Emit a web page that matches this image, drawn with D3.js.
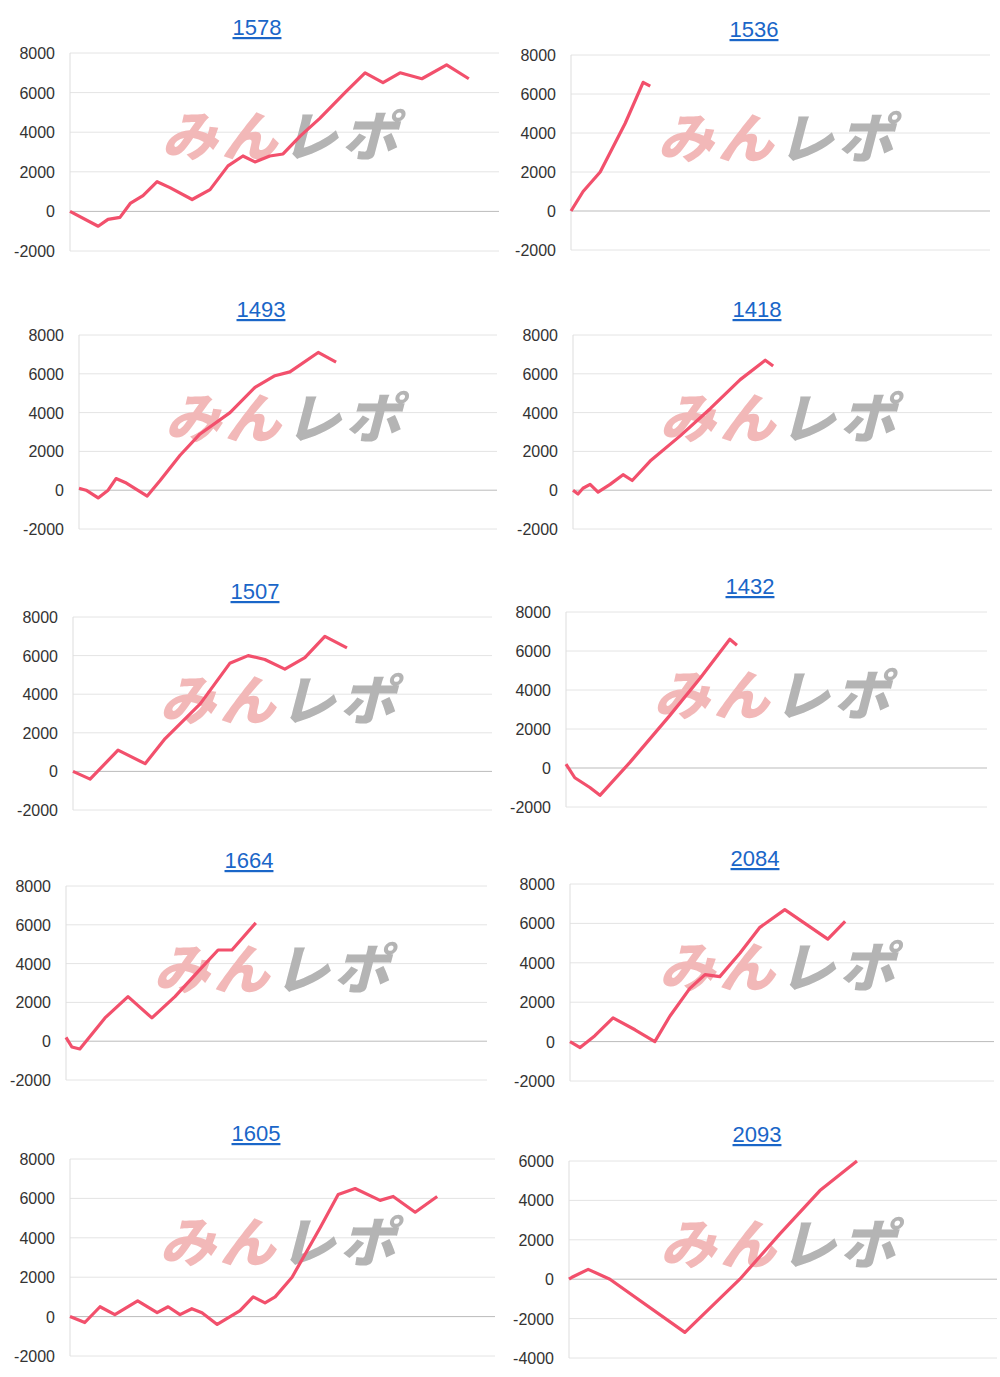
<!DOCTYPE html>
<html><head><meta charset="utf-8">
<script src="https://cdn.jsdelivr.net/npm/d3@7"></script>
<style>body{margin:0;background:#fff;font-family:"Liberation Sans",Arial,sans-serif}</style>
</head><body><svg id="c" width="1000" height="1377"></svg>
<script>
const titles=["1578","1536","1493","1418","1507","1432","1664","2084","1605","2093"];
const tickSets=[[-2000,0,2000,4000,6000,8000],[-4000,-2000,0,2000,4000,6000]];
const s1578x=[0,6.6,8.9,11.7,14.1,17.1,20.4,23.4,28.6,32.8,37,40.5,43.3,46.8,49.9,53.9,58.5,64.4,69.1,73.3,77.3,82.4,88.2,93.4];
const s1578y=[0,-750,-400,-300,400,800,1500,1200,600,1100,2300,2800,2500,2800,2900,3800,4700,6000,7000,6500,7000,6700,7400,6700];
const s1536x=[0,2.9,7,13,17.3,19];
const s1536y=[0,1000,2000,4500,6600,6400];
const s1493x=[0,1.7,4.6,7,8.9,11.1,16.4,19.5,24.3,29.1,36.3,42.3,47.1,50.7,57.5,61.8];
const s1493y=[100,0,-400,0,600,400,-300,500,1800,2900,4000,5300,5900,6100,7100,6600];
const s1418x=[0,1.2,2.4,4.1,6,8.9,12,14.2,18.5,25.7,32.9,40.1,46.1,48];
const s1418y=[0,-200,100,300,-100,300,800,500,1500,2800,4200,5700,6700,6400];
const s1507x=[0,4.1,10.8,17.3,22.1,30.5,37.6,42,46,50.8,55.6,60.4,65.7];
const s1507y=[0,-400,1100,400,1700,3500,5600,6000,5800,5300,5900,7000,6400];
const s1432x=[0,2.1,5.7,8.1,15.3,24.8,32,39.1,40.8];
const s1432y=[200,-500,-1000,-1400,300,2700,4600,6600,6300];
const s1664x=[0,1.4,3.3,9.3,14.8,20.5,26,32,36.3,39.6,45.3];
const s1664y=[200,-300,-400,1200,2300,1200,2300,3700,4700,4700,6100];
const s2084x=[0,2.4,5.9,10.2,15.4,20.1,23.7,28.4,32,35.5,40.3,45,50.9,61.1,65.2];
const s2084y=[0,-300,300,1200,600,0,1300,2700,3400,3300,4500,5800,6700,5200,6100];
const s1605x=[0,3.5,7.1,10.6,16,20.6,23.2,26,28.8,31.2,34.8,40.2,43.3,46.1,48.5,52.5,59.1,63.4,67.4,73.3,76.4,81.6,86.8];
const s1605y=[0,-300,500,100,800,200,500,100,400,200,-400,300,1000,700,1000,2000,4500,6200,6500,5900,6100,5300,6100];
const s2093x=[0,0.7,4.5,9.6,27.2,40.1,49.5,58.9,67.6];
const s2093y=[0,100,500,0,-2700,0,2300,4500,6000];
const seriesX=[s1578x,s1536x,s1493x,s1418x,s1507x,s1432x,s1664x,s2084x,s1605x,s2093x];
const seriesY=[s1578y,s1536y,s1493y,s1418y,s1507y,s1432y,s1664y,s2084y,s1605y,s2093y];
const layout=[[257,27,70,497,53,251,0],[754,29,571,988,55,250,0],[261,309,79,495,335,529,0],[757,309,573,990,335,529,0],
[255,591,73,490,617,810,0],[750,586,566,985,612,807,0],[249,860,66,485,886,1080,0],[755,858,570,992,884,1081,0],
[256,1133,70,493,1159,1356,0],[757,1134,569,995,1161,1358,1]];
const svg=d3.select("#c");
layout.forEach((L,i)=>{
  const [tx,ty,x0,x1,yt,yb,ts]=L; const ticks=tickSets[ts];
  const g=svg.append("g");
  const x=d3.scaleLinear().domain([0,100]).range([x0,x1]);
  const y=d3.scaleLinear().domain([ticks[0],ticks[ticks.length-1]]).range([yb,yt]);
  ticks.forEach(t=>{
    g.append("line").attr("x1",x0).attr("x2",x1+2).attr("y1",y(t)).attr("y2",y(t))
     .attr("stroke",t===0?"#bbb":"#e4e4e4").attr("stroke-width",1);
    g.append("text").attr("x",x0-15).attr("y",y(t)+6).attr("text-anchor","end")
     .attr("font-size",16).attr("fill","#333").text(t);
  });
  g.append("line").attr("x1",x0).attr("x2",x0).attr("y1",yt).attr("y2",yb).attr("stroke","#ddd");
  g.append("text").attr("x",tx).attr("y",ty+8).attr("text-anchor","middle").attr("font-size",22)
   .attr("fill","#1a66c8").attr("text-decoration","underline").text(titles[i]);
  const wx=(x0+x1)/2-2, wy=yt+103;
  const wm=g.append("text").attr("x",wx).attr("y",wy).attr("text-anchor","middle")
   .attr("font-size",54).attr("font-weight","900").attr("font-style","italic")
   .attr("letter-spacing",4).attr("textLength",240).attr("lengthAdjust","spacingAndGlyphs")
   .attr("font-family","'Noto Sans CJK JP',sans-serif");
  wm.append("tspan").attr("fill","#f2b8b8").text("みん");
  wm.append("tspan").attr("fill","#b4b4b4").text("レポ");
  const pts=seriesX[i].map((v,k)=>[v,seriesY[i][k]]);
  g.append("path").datum(pts).attr("fill","none").attr("stroke","#f2506c").attr("stroke-width",3.2)
   .attr("stroke-linejoin","round").attr("d",d3.line().x(d=>x(d[0])).y(d=>y(d[1])));
});
</script></body></html>
